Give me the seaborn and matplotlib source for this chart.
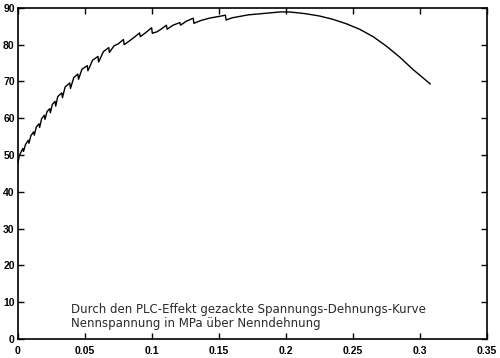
import matplotlib
matplotlib.use("Agg")
import matplotlib.pyplot as plt
import seaborn as sns

# Nominal strain (Nenndehnung)
strain = [0.0, 0.0015, 0.004, 0.0045, 0.006, 0.008, 0.0085, 0.010, 0.012, 0.0125,
          0.014, 0.016, 0.0165, 0.018, 0.020, 0.0205, 0.022, 0.024, 0.0245, 0.026,
          0.028, 0.0285, 0.030, 0.033, 0.0335, 0.0355, 0.039, 0.0395, 0.042, 0.045,
          0.0455, 0.048, 0.052, 0.0525, 0.056, 0.060, 0.0605, 0.064, 0.068, 0.0685,
          0.072, 0.075, 0.079, 0.0795, 0.083, 0.087, 0.091, 0.0915, 0.095, 0.100,
          0.1005, 0.104, 0.107, 0.111, 0.1115, 0.116, 0.121, 0.1215, 0.126, 0.131,
          0.1315, 0.137, 0.143, 0.149, 0.155, 0.1555, 0.160, 0.166, 0.172, 0.178,
          0.184, 0.190, 0.196, 0.202, 0.208, 0.215, 0.225, 0.235, 0.245, 0.255,
          0.265, 0.275, 0.285, 0.295, 0.3078]
# Nominal stress in MPa (Nennspannung)
stress = [47.3, 50.0, 51.8, 51.0, 52.9, 54.0, 53.2, 55.3, 56.3, 55.4,
          57.6, 58.5, 57.5, 59.9, 60.8, 59.7, 61.8, 62.6, 61.5, 63.8,
          64.6, 63.3, 65.9, 66.9, 65.6, 68.5, 69.6, 68.1, 71.1, 72.0,
          70.6, 73.3, 74.3, 72.9, 75.8, 76.8, 75.3, 78.1, 79.2, 77.9,
          79.7, 80.2, 81.4, 80.0, 80.9, 82.0, 83.2, 82.2, 83.1, 84.6,
          83.1, 83.5, 84.2, 85.3, 84.2, 85.3, 86.0, 85.3, 86.4, 87.2,
          85.8, 86.6, 87.2, 87.6, 88.0, 86.7, 87.3, 87.7, 88.1, 88.3,
          88.5, 88.7, 88.9, 88.9, 88.7, 88.4, 87.8, 86.9, 85.7, 84.2,
          82.2, 79.6, 76.6, 73.2, 69.3]

x_ticks = [0, 0.05, 0.1, 0.15, 0.2, 0.25, 0.3, 0.35]
x_tick_labels = ["0", "0.05", "0.1", "0.15", "0.2", "0.25", "0.3", "0.35"]
y_ticks = [0, 10, 20, 30, 40, 50, 60, 70, 80, 90]
caption = "Durch den PLC-Effekt gezackte Spannungs-Dehnungs-Kurve\nNennspannung in MPa über Nenndehnung"

sns.set_style("ticks")
plt.rcParams['font.family'] = ['Liberation Sans', 'DejaVu Sans']

fig = plt.figure(figsize=(5.0, 3.58), dpi=100)
ax = fig.add_axes([0.035, 0.053, 0.939, 0.925])

sns.lineplot(x=strain, y=stress, ax=ax, color="black", linewidth=1.0,
             estimator=None, sort=False)

ax.set_xlim(0, 0.35)
ax.set_ylim(0, 90)
ax.set_xticks(x_ticks)
ax.set_xticklabels(x_tick_labels)
ax.set_yticks(y_ticks)
ax.tick_params(axis="both", direction="in", length=4, width=1.0,
               top=True, right=True, labelsize=7.5, colors="black")
ax.tick_params(axis="x", pad=5)
ax.tick_params(axis="y", pad=2)
for lab in ax.get_xticklabels() + ax.get_yticklabels():
    lab.set_fontweight("bold")
for s in ax.spines.values():
    s.set_linewidth(1.2)
    s.set_color("black")

ax.text(0.040, 6.1, caption, fontsize=8.5, color="#2a2a2a",
        family=['DejaVu Sans'], va="center", ha="left", linespacing=1.1)

ax.set_xlabel("")
ax.set_ylabel("")
fig.savefig("out.png", dpi=100)
